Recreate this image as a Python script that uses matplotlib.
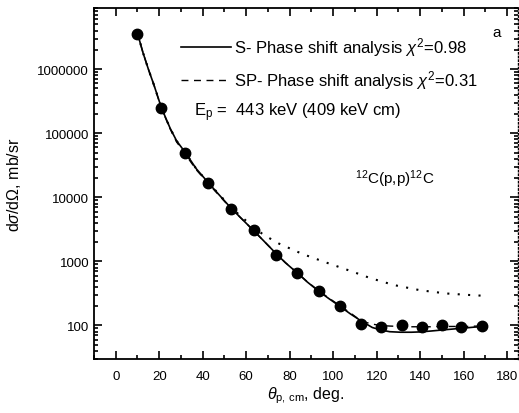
import numpy as np
import matplotlib
matplotlib.use("Agg")
import matplotlib.pyplot as plt
from matplotlib.ticker import FixedLocator, LogLocator, NullFormatter

plt.rcParams['font.family'] = ['Liberation Sans', 'DejaVu Sans']
plt.rcParams['mathtext.fontset'] = 'custom'
plt.rcParams['mathtext.rm'] = 'Liberation Sans'
plt.rcParams['mathtext.it'] = 'Liberation Sans:italic'

# measured 12C(p,p)12C cross sections, E_p = 443 keV
theta_exp = [10, 21, 32, 42.5, 53, 63.5, 73.5, 83.5, 93.5, 103, 113,
             122, 131.5, 141, 150, 159, 168.5]
xs_exp = [3.6e6, 2.45e5, 5.0e4, 1.7e4, 6.5e3, 3.1e3, 1.25e3, 650, 345, 200, 107,
          96, 100, 96, 101, 96, 97]

# S-wave phase shift fit
theta_s = [10, 12.5, 15, 17.5, 21, 25, 28, 32, 37, 42.5, 48, 53, 58, 63.5, 68,
           73.5, 78, 83.5, 88, 93.5, 98, 103, 108, 113, 118, 122, 126, 131,
           136, 140, 145, 150, 155, 160, 165, 170]
xs_s = [3.63e6, 1.82e6, 1.0e6, 5.75e5, 2.5e5, 1.2e5, 7.6e4, 5.0e4, 2.8e4, 1.7e4,
        1.05e4, 6.8e3, 4.6e3, 3.0e3, 2.1e3, 1.35e3, 955, 660, 480, 340, 263,
        200, 151, 117, 93, 85, 80, 78.5, 78.5, 79.4, 82, 85, 88, 91, 94.4, 96.6]

# S+P-wave phase shift fit
theta_sp = [10, 12.5, 15, 17.5, 21, 25, 28, 32, 37, 42.5, 48, 53, 58, 63.5, 68,
            73.5, 78, 83.5, 88, 93.5, 98, 103, 108, 113, 118, 122, 126, 131,
            136, 140, 145, 150, 155, 160, 165, 170]
xs_sp = [3.63e6, 1.82e6, 1.0e6, 5.75e5, 2.45e5, 1.17e5, 7.3e4, 4.7e4, 2.7e4, 1.65e4,
         1.03e4, 6.7e3, 4.6e3, 3.0e3, 2.1e3, 1.35e3, 960, 665, 485, 345, 268,
         205, 156, 117, 105, 100, 98, 96.6, 95.5, 95.5, 95.5, 96.6, 96.6, 96.6,
         97.7, 97.7]

# pure Coulomb (Rutherford-like) cross section
theta_c = [10, 12.5, 15, 17.5, 21, 25, 28, 32, 37, 42.5, 48, 53, 58, 63.5, 68,
           75, 86, 97, 109, 117, 128, 140, 152, 162, 170]
xs_c = [3.63e6, 1.82e6, 1.0e6, 5.75e5, 2.5e5, 1.2e5, 7.6e4, 5.0e4, 2.8e4, 1.7e4,
        1.07e4, 7.0e3, 4.9e3, 3.4e3, 2.6e3, 1.9e3, 1.3e3, 955, 690, 550, 427,
        355, 316, 300, 290]

fig = plt.figure(figsize=(5.19, 4.14), dpi=100)
ax = fig.add_axes([94 / 519, 1 - 360 / 414, 424 / 519, 351 / 414])

ax.plot(theta_s, xs_s, '-', color='black', lw=1.2,
        label=r'S- Phase shift analysis $\chi^2$=0.98')
ax.plot(theta_sp, xs_sp, '--', color='black', lw=1.0, dashes=(5, 4),
        label=r'SP- Phase shift analysis $\chi^2$=0.31')
ax.plot(theta_c, xs_c, ':', color='black', lw=1.5, dashes=(1, 4))
ax.plot(theta_exp, xs_exp, 'o', color='black', ms=7.5)

ax.set_yscale('log')
ax.set_xlim(-10, 185)
ax.set_ylim(30, 9e6)

ax.xaxis.set_major_locator(FixedLocator(np.arange(0, 181, 20)))
ax.xaxis.set_minor_locator(FixedLocator(np.arange(-10, 185, 10)))
ax.yaxis.set_major_locator(FixedLocator([100, 1000, 10000, 100000, 1000000]))
ax.yaxis.set_minor_locator(LogLocator(base=10, subs=np.arange(2, 10), numticks=20))
ax.yaxis.set_minor_formatter(NullFormatter())
ax.set_yticklabels(['100', '1000', '10000', '100000', '1000000'])

ax.tick_params(which='both', direction='in', top=True, right=True, labelsize=9.5, width=1.2)
ax.tick_params(which='major', length=6)
ax.tick_params(which='minor', length=3)
ax.tick_params(axis='x', pad=8)
for side in ['left', 'bottom', 'top']:
    ax.spines[side].set_linewidth(1.3)
ax.spines['right'].set_linestyle(':')
ax.spines['right'].set_linewidth(1.0)

ax.set_xlabel(r'$\theta_{\rm p,\,cm}$, deg.', fontsize=11.5, labelpad=2)
ax.set_ylabel(r'd$\sigma$/d$\Omega$, mb/sr', fontsize=11.5, labelpad=10)

ax.legend(loc='upper left', bbox_to_anchor=(0.17, 0.965), frameon=False,
          fontsize=12, handlelength=3.0, handletextpad=0.2, labelspacing=0.6)
ax.text(0.235, 0.695, r'E$_{\rm p}$ =  443 keV (409 keV cm)', transform=ax.transAxes,
        fontsize=12)
ax.text(0.615, 0.50, r'$^{12}$C(p,p)$^{12}$C', transform=ax.transAxes, fontsize=11)
ax.text(0.94, 0.92, 'a', transform=ax.transAxes, fontsize=11)

fig.savefig('out.png', dpi=100)
